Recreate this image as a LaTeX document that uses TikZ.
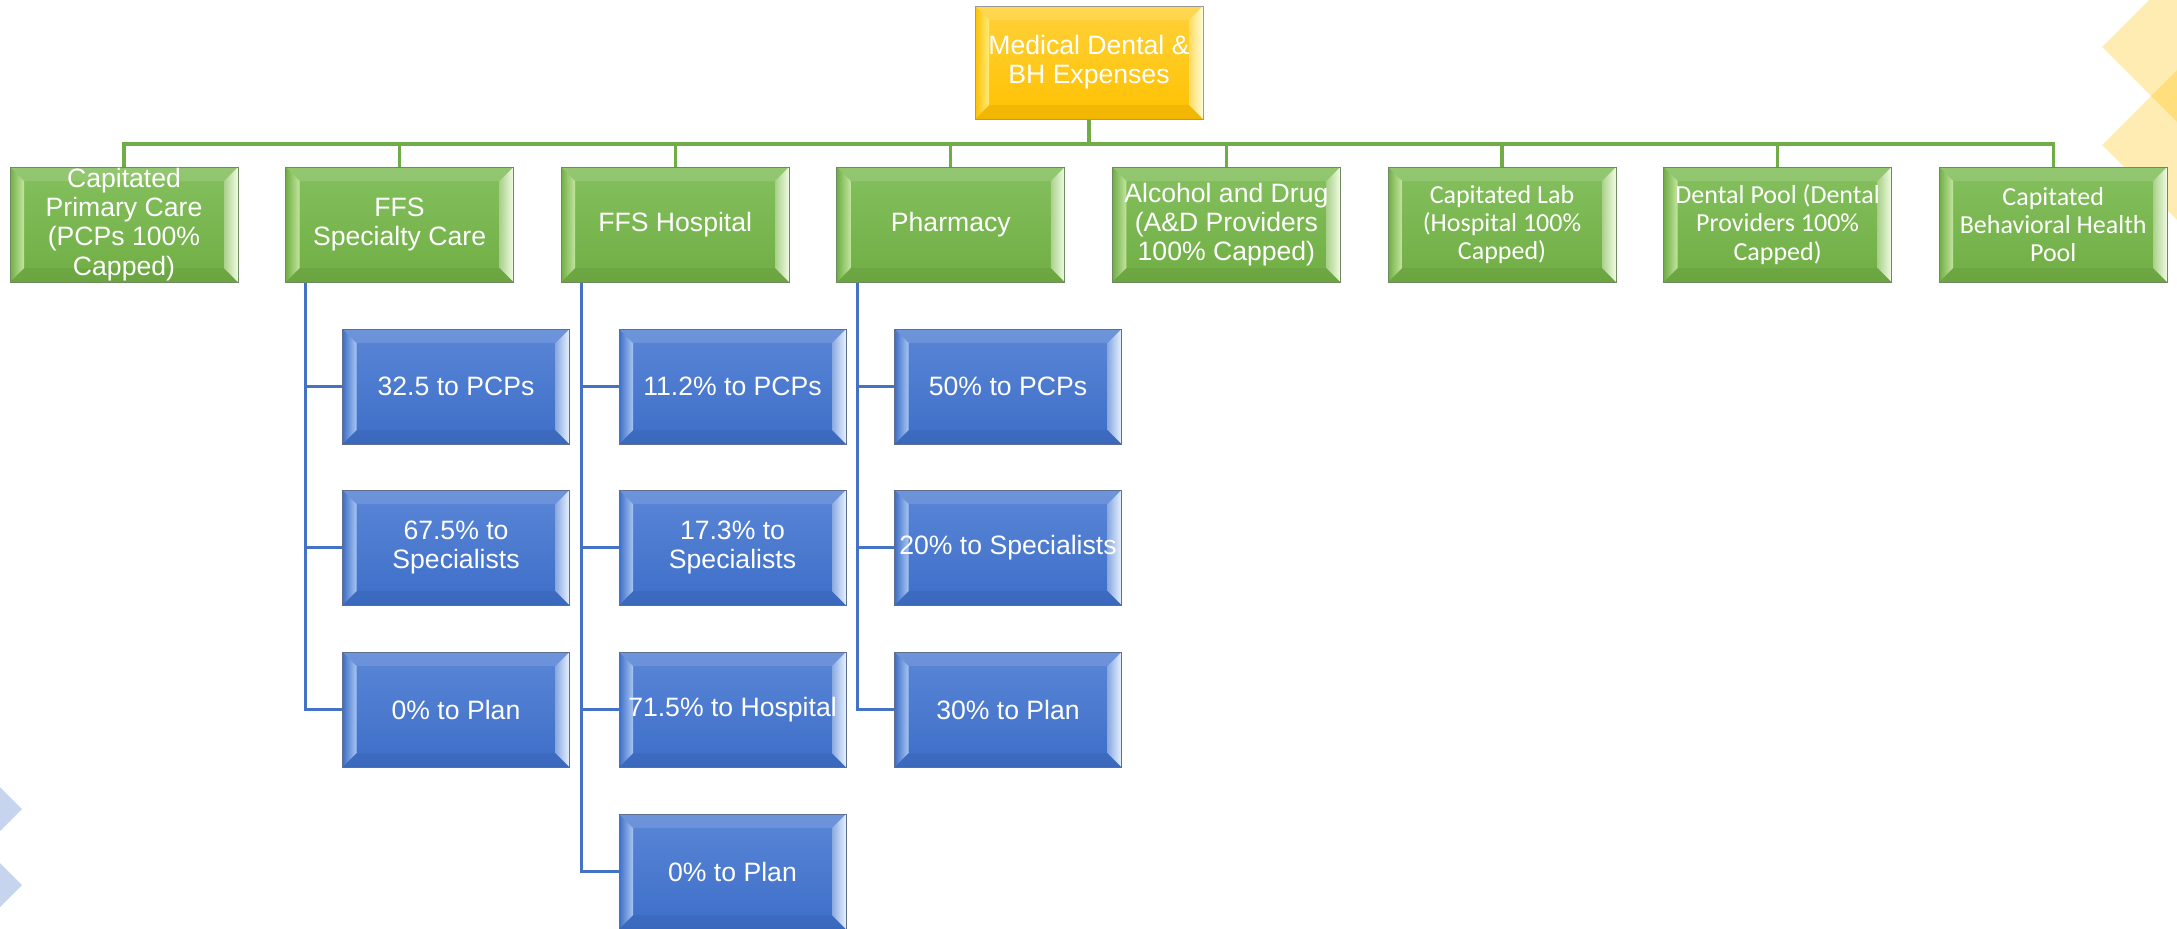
\documentclass[tikz,border=0pt]{standalone}
\usepackage{fontspec}
\setmainfont{Liberation Sans}
\newfontfamily\calib{Carlito}

\definecolor{gmain}{HTML}{70AE44}
\definecolor{gtop}{HTML}{84C05E}
\definecolor{glite}{HTML}{C4E6A0}
\definecolor{gwhite}{HTML}{F2FCE4}
\definecolor{gborder}{HTML}{6F8A60}
\definecolor{gline}{HTML}{70AD47}

\definecolor{bmain}{HTML}{3D6EC8}
\definecolor{btop}{HTML}{5A86D6}
\definecolor{blite}{HTML}{A8C6F2}
\definecolor{bwhite}{HTML}{E8F2FF}
\definecolor{bborder}{HTML}{5E6E8C}
\definecolor{bline}{HTML}{4472C4}

\definecolor{ymain}{HTML}{FFC000}
\definecolor{ytop}{HTML}{FFD23A}
\definecolor{ylite}{HTML}{FFEA7A}
\definecolor{ywhite}{HTML}{FFFCD8}
\definecolor{yborder}{HTML}{9A9A9A}

\tikzset{
  % bevelled box: main, top, left-face light, right-face light, border
  bevel/.style n args={5}{
    draw=#5, line width=0.5pt,
    top color=#2, bottom color=#1,
    text=white, align=center, inner sep=0pt,
    path picture={
      \path (path picture bounding box.north west) coordinate (bvNW)
            (path picture bounding box.north east) coordinate (bvNE)
            (path picture bounding box.south west) coordinate (bvSW)
            (path picture bounding box.south east) coordinate (bvSE);
      \fill[white,opacity=0.12] (bvNW) -- (bvNE) -- ([shift={(-7pt,-7pt)}]bvNE)
            -- ([shift={(7pt,-7pt)}]bvNW) -- cycle;
      \fill[black,opacity=0.05] (bvSW) -- (bvSE) -- ([shift={(-7pt,7pt)}]bvSE)
            -- ([shift={(7pt,7pt)}]bvSW) -- cycle;
      \shade[left color=#1, right color=#3] (bvNW) -- ([shift={(7pt,-7pt)}]bvNW)
            -- ([shift={(7pt,7pt)}]bvSW) -- (bvSW) -- cycle;
      \shade[left color=#1!55!#4, right color=#4] (bvNE) -- ([shift={(-7pt,-7pt)}]bvNE)
            -- ([shift={(-7pt,7pt)}]bvSE) -- (bvSE) -- cycle;
    }
  },
  arial/.style={font=\fontsize{13.3}{14.6}\selectfont},
  calibri/.style={font=\calib\fontsize{13}{14.2}\selectfont},
  ybox/.style={bevel={ymain}{ytop}{ylite}{ywhite}{yborder},
    minimum width=114pt, minimum height=56.5pt, arial},
  gbox/.style={bevel={gmain}{gtop}{glite}{gwhite}{gborder},
    minimum width=114pt, minimum height=57.5pt, arial},
  bbox/.style={bevel={bmain}{btop}{blite}{bwhite}{bborder},
    minimum width=113.5pt, minimum height=57.5pt, arial},
  glink/.style={draw=gline, line width=1.6pt},
  blink/.style={draw=bline, line width=1.6pt},
  ydeco/.style={fill=ymain, fill opacity=0.3},
  bdeco/.style={fill=bline, fill opacity=0.3},
}

\begin{document}
\begin{tikzpicture}[x=0.5pt,y=-0.5pt]
\useasboundingbox (0,0) rectangle (2177,928);

% corner ornaments
\fill[ydeco] (2102,47) -- (2149,0) -- (2177,0) -- (2177,122) -- cycle;
\fill[ydeco] (2102,145) -- (2177,70) -- (2177,220) -- cycle;
\fill[bdeco] (0,787) -- (22,809) -- (0,831) -- cycle;
\fill[bdeco] (0,863) -- (22,885) -- (0,907) -- cycle;

% root
\node[ybox] (root) at (1089,62.5) {Medical Dental \&\\BH Expenses};

% first level
\node[gbox] (g1) at (124,224.5) {Capitated\\Primary Care\\(PCPs 100\%\\Capped)};
\node[gbox] (g2) at (399.6,224.5) {FFS\\Specialty Care};
\node[gbox] (g3) at (675.2,224.5) {FFS Hospital};
\node[gbox] (g4) at (950.8,224.5) {Pharmacy};
\node[gbox] (g5) at (1226.4,224.5) {Alcohol and Drug\\(A\&D Providers\\100\% Capped)};
\node[gbox,calibri] (g6) at (1502,224.5) {Capitated Lab\\(Hospital 100\%\\Capped)};
\node[gbox,calibri] (g7) at (1777.6,224.5) {Dental Pool (Dental\\Providers 100\%\\Capped)};
\node[gbox,calibri] (g8) at (2053.2,224.5) {Capitated\\Behavioral Health\\Pool};

% second level
\node[bbox] (b21) at (456,386.5) {32.5 to PCPs};
\node[bbox] (b22) at (456,547.5) {67.5\% to\\Specialists};
\node[bbox] (b23) at (456,709.5) {0\% to Plan};

\node[bbox] (b31) at (732.5,386.5) {11.2\% to PCPs};
\node[bbox] (b32) at (732.5,547.5) {17.3\% to\\Specialists};
\node[bbox] (b33) at (732.5,709.5) {71.5\% to Hospital};
\node[bbox] (b34) at (732.5,871.5) {0\% to Plan};

\node[bbox] (b41) at (1008,386.5) {50\% to PCPs};
\node[bbox] (b42) at (1008,547.5) {20\% to Specialists};
\node[bbox] (b43) at (1008,709.5) {30\% to Plan};

% connectors from the root
\coordinate (bus) at (0,144);
\foreach \i in {1,...,8}
  \draw[glink] (root.south) -- (root.south |- bus) -| (g\i.north);

% connectors to the second level
\coordinate (t2) at ([xshift=10pt]g2.south west);
\coordinate (t3) at ([xshift=10.5pt]g3.south west);
\coordinate (t4) at ([xshift=10.5pt]g4.south west);
\foreach \j in {1,2,3} \draw[blink] (t2) |- (b2\j.west);
\foreach \j in {1,2,3,4} \draw[blink] (t3) |- (b3\j.west);
\foreach \j in {1,2,3} \draw[blink] (t4) |- (b4\j.west);
\end{tikzpicture}
\end{document}
